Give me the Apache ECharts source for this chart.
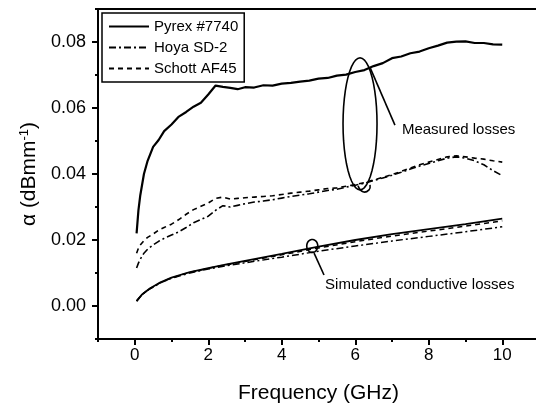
<!DOCTYPE html>
<html>
<head>
<meta charset="utf-8">
<script src="https://cdn.jsdelivr.net/npm/echarts@6/dist/echarts.min.js"></script>
<style>
html, body { margin: 0; padding: 0; background: #fff; }
#main { width: 536px; height: 404px; }
</style>
</head>
<body>
<div id="main"></div>
<script>
// measured losses (GHz, dB/mm)
var freqMeas = [0.05, 0.1, 0.15, 0.25, 0.35, 0.5, 0.65, 0.8, 1.0, 1.2, 1.4, 1.6, 1.8, 2.0, 2.2, 2.4, 2.6, 2.8, 3.0, 3.25,
    3.5, 3.75, 4.0, 4.25, 4.5, 4.75, 5.0, 5.25, 5.5, 5.75, 6.0, 6.25, 6.5, 6.75, 7.0, 7.25, 7.5, 7.75, 8.0, 8.25,
    8.5, 8.75, 9.0, 9.25, 9.5, 9.75, 10.0];
var pyrexMeas = [0.0220, 0.0290, 0.0335, 0.0400, 0.0440, 0.0482, 0.0503, 0.0530, 0.0550, 0.0574, 0.0588, 0.0604, 0.0616, 0.0641, 0.0668, 0.0664, 0.0661, 0.0657, 0.0663, 0.0662,
    0.0669, 0.0668, 0.0674, 0.0676, 0.0680, 0.0683, 0.0689, 0.0691, 0.0698, 0.0701, 0.0709, 0.0715, 0.0727, 0.0736, 0.0751, 0.0756, 0.0766, 0.0771, 0.0781, 0.0789,
    0.0798, 0.0801, 0.0802, 0.0797, 0.0797, 0.0793, 0.0792];
var hoyaMeas = [0.0115, 0.0130, 0.0142, 0.0160, 0.0172, 0.0185, 0.0196, 0.0205, 0.0215, 0.0225, 0.0238, 0.0252, 0.0262, 0.0272, 0.0290, 0.0304, 0.0300, 0.0305, 0.0310, 0.0315,
    0.0318, 0.0322, 0.0327, 0.0332, 0.0336, 0.0340, 0.0345, 0.0350, 0.0354, 0.0360, 0.0366, 0.0372, 0.0380, 0.0388, 0.0396, 0.0405, 0.0415, 0.0424, 0.0432, 0.0440,
    0.0448, 0.0452, 0.0448, 0.0440, 0.0428, 0.0410, 0.0395];
var schottMeas = [0.0160, 0.0175, 0.0185, 0.0198, 0.0208, 0.0218, 0.0230, 0.0238, 0.0248, 0.0262, 0.0278, 0.0292, 0.0302, 0.0312, 0.0326, 0.0330, 0.0324, 0.0326, 0.0328, 0.0330,
    0.0332, 0.0334, 0.0338, 0.0342, 0.0345, 0.0348, 0.0352, 0.0356, 0.0358, 0.0363, 0.0368, 0.0374, 0.0382, 0.0390, 0.0398, 0.0408, 0.0418, 0.0428, 0.0436, 0.0444,
    0.0452, 0.0455, 0.0452, 0.0448, 0.0445, 0.0440, 0.0436];

// simulated conductive losses
var freqSim = [0.05, 0.2, 0.4, 0.7, 1.0, 1.5, 2.0, 2.5, 3.0, 4.0, 5.0, 6.0, 7.0, 8.0, 9.0, 10.0];
var pyrexSim = [0.0015, 0.0035, 0.0052, 0.0072, 0.0086, 0.0103, 0.0115, 0.0126, 0.0137, 0.0158, 0.0180, 0.0200, 0.0218, 0.0233, 0.0248, 0.0265];
var hoyaSim = [0.0015, 0.0035, 0.0051, 0.0070, 0.0084, 0.0100, 0.0112, 0.0122, 0.0131, 0.0148, 0.0166, 0.0182, 0.0197, 0.0211, 0.0225, 0.0240];
var schottSim = [0.0015, 0.0035, 0.0052, 0.0071, 0.0085, 0.0102, 0.0114, 0.0125, 0.0135, 0.0155, 0.0176, 0.0195, 0.0212, 0.0227, 0.0242, 0.0258];

var names = ['Pyrex #7740', 'Hoya SD-2', 'Schott AF45'];
var xMajor = [0, 2, 4, 6, 8, 10];
var xMinor = [-1, 1, 3, 5, 7, 9, 11];
var yMajor = [0, 0.02, 0.04, 0.06, 0.08];
var yMinor = [-0.01, 0.01, 0.03, 0.05, 0.07, 0.09];

function pairs(xs, ys) {
    return xs.map(function (x, i) { return [x, ys[i]]; });
}

var font = 'Liberation Sans, Arial, sans-serif';
var dashDot = [7, 3, 2, 3];
var dashed = [5, 4];

function lineSeries(name, data, width, type) {
    return {
        name: name,
        type: 'line',
        data: data,
        symbol: 'none',
        silent: true,
        itemStyle: { color: '#000' },
        lineStyle: { color: '#000', width: width, type: type }
    };
}

var myChart = echarts.init(document.getElementById('main'));

var option = {
    animation: false,
    backgroundColor: '#fff',
    grid: {
        left: 98, right: -3, top: 9, bottom: 65,
        show: true, borderColor: '#000', borderWidth: 2,
        outerBoundsMode: 'none'
    },
    legend: {
        data: names,
        orient: 'vertical',
        left: 102, top: 13,
        padding: [6, 6, 6, 6],
        itemGap: 6,
        itemWidth: 40, itemHeight: 14,
        borderColor: '#000', borderWidth: 1.5,
        backgroundColor: '#fff',
        itemStyle: { opacity: 0 },
        textStyle: { fontFamily: font, fontSize: 15, color: '#000' }
    },
    xAxis: [{
        type: 'value', min: -1, max: 11, interval: 1,
        name: 'Frequency (GHz)', nameLocation: 'middle', nameGap: 44,
        nameTextStyle: { fontFamily: font, fontSize: 21, color: '#000' },
        splitLine: { show: false },
        axisLine: { onZero: false, lineStyle: { color: '#000', width: 2 } },
        axisTick: { customValues: xMajor, length: 6, lineStyle: { color: '#000', width: 2 } },
        axisLabel: { customValues: xMajor, margin: 8, fontFamily: font, fontSize: 17, color: '#000' }
    }, {
        type: 'value', min: -1, max: 11, position: 'bottom',
        splitLine: { show: false },
        axisLine: { show: false, onZero: false },
        axisTick: { customValues: xMinor, length: 3, lineStyle: { color: '#000', width: 2 } },
        axisLabel: { show: false }
    }],
    yAxis: [{
        type: 'value', min: -0.01, max: 0.09, interval: 0.01,
        name: 'α (dBmm{sup|-1})', nameLocation: 'middle', nameGap: 54,
        nameTextStyle: {
            fontFamily: font, fontSize: 21, color: '#000',
            rich: { sup: { fontFamily: font, fontSize: 13, color: '#000', verticalAlign: 'top', padding: [0, 0, 10, 0] } }
        },
        splitLine: { show: false },
        axisLine: { onZero: false, lineStyle: { color: '#000', width: 2 } },
        axisTick: { customValues: yMajor, length: 6, lineStyle: { color: '#000', width: 2 } },
        axisLabel: {
            customValues: yMajor, margin: 12, fontFamily: font, fontSize: 18, color: '#000',
            formatter: function (v) { return v.toFixed(2); }
        }
    }, {
        type: 'value', min: -0.01, max: 0.09, position: 'left',
        splitLine: { show: false },
        axisLine: { show: false, onZero: false },
        axisTick: { customValues: yMinor, length: 3, lineStyle: { color: '#000', width: 2 } },
        axisLabel: { show: false }
    }],
    series: [
        lineSeries(names[0], pairs(freqMeas, pyrexMeas), 2.2, 'solid'),
        lineSeries(names[1], pairs(freqMeas, hoyaMeas), 1.6, dashDot),
        lineSeries(names[2], pairs(freqMeas, schottMeas), 1.6, dashed),
        lineSeries(names[0], pairs(freqSim, pyrexSim), 1.8, 'solid'),
        lineSeries(names[1], pairs(freqSim, hoyaSim), 1.5, dashDot),
        lineSeries(names[2], pairs(freqSim, schottSim), 1.5, dashed)
    ]
};

myChart.setOption(option);

// annotations, anchored in data units
function px(f, v) {
    return myChart.convertToPixel({ xAxisIndex: 0, yAxisIndex: 0 }, [f, v]);
}
function ellipsePoints(c, rx, ry) {
    var pts = [];
    for (var k = 0; k <= 48; k++) {
        var t = k / 48 * Math.PI * 2;
        pts.push([c[0] + rx * Math.cos(t), c[1] + ry * Math.sin(t)]);
    }
    return pts;
}

var bigC = px(6.13, 0.0552);
var smallC = px(4.83, 0.0182);
var m1 = px(6.41, 0.0721), m2 = px(7.08, 0.0548), mText = px(7.27, 0.0533);
var s1 = px(4.88, 0.0160), s2 = px(5.15, 0.0094), sText = px(5.18, 0.0064);
var stroke = { stroke: '#000', lineWidth: 1.6, fill: null };
var curl = [[bigC[0] - 2, bigC[1] + 62], [bigC[0] + 3, bigC[1] + 68], [bigC[0] + 9, bigC[1] + 66], [bigC[0] + 10, bigC[1] + 61]];

myChart.setOption({
    graphic: [
        { type: 'polyline', shape: { points: ellipsePoints(bigC, 17, 66) }, style: stroke, silent: true },
        { type: 'polyline', shape: { points: curl, smooth: 0.5 }, style: stroke, silent: true },
        { type: 'line', shape: { x1: m1[0], y1: m1[1], x2: m2[0], y2: m2[1] }, style: stroke, silent: true },
        { type: 'text', x: mText[0], y: mText[1], style: { text: 'Measured losses', fontFamily: font, fontSize: 15, fill: '#000', textVerticalAlign: 'middle' } },
        { type: 'polyline', shape: { points: ellipsePoints(smallC, 5.5, 6.5) }, style: stroke, silent: true },
        { type: 'line', shape: { x1: s1[0], y1: s1[1], x2: s2[0], y2: s2[1] }, style: stroke, silent: true },
        { type: 'text', x: sText[0], y: sText[1], style: { text: 'Simulated conductive losses', fontFamily: font, fontSize: 15, fill: '#000', textVerticalAlign: 'middle' } }
    ]
});
</script>
</body>
</html>
